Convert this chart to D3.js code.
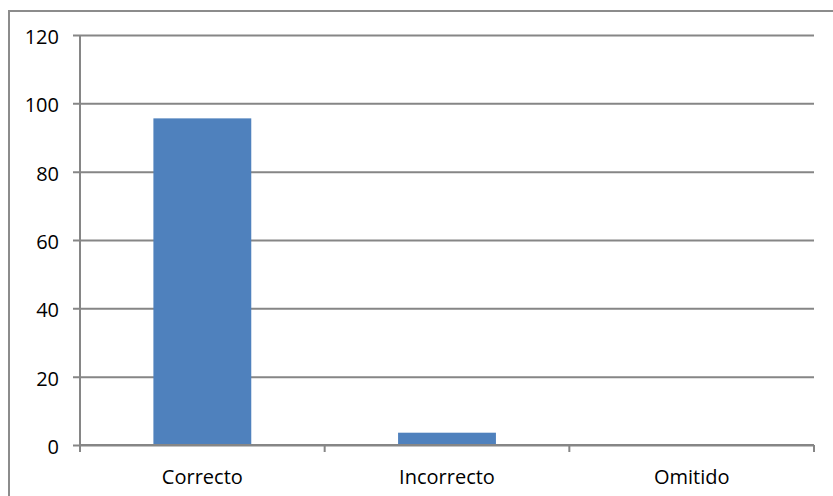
<!DOCTYPE html>
<html>
<head>
<meta charset="utf-8">
<script src="https://cdn.jsdelivr.net/npm/d3@7"></script>
<style>
  html, body { margin: 0; padding: 0; background: #fff; }
  svg { display: block; }
  text { font-family: "Open Sans", "Noto Sans", sans-serif; fill: #000; }
</style>
</head>
<body>
<div id="chart"></div>
<script>
// Answer categories and their counts
const categories = ["Correcto", "Incorrecto", "Omitido"];
const values = [95.6, 3.6, 0];
const yTicks = [0, 20, 40, 60, 80, 100, 120];

const W = 833, H = 496;
const plot = { left: 80, right: 814, top: 35, bottom: 445 };
const axisColor = "#868686";

const svg = d3.select("#chart").append("svg")
  .attr("width", W).attr("height", H);

// Outer chart frame
svg.append("rect")
  .attr("x", 9).attr("y", 11)
  .attr("width", W + 10).attr("height", H + 10)
  .attr("fill", "none")
  .attr("stroke", "#8c8c8c")
  .attr("stroke-width", 2);

const x = d3.scaleBand()
  .domain(categories)
  .range([plot.left, plot.right])
  .padding(0);

const y = d3.scaleLinear()
  .domain([0, 120])
  .range([plot.bottom, plot.top]);

// Horizontal gridlines with outward tick marks
const yAxis = svg.append("g")
  .attr("transform", `translate(${plot.left},0)`)
  .call(d3.axisLeft(y)
    .tickValues(yTicks)
    .tickSizeInner(-(plot.right - plot.left))
    .tickSizeOuter(0)
    .tickPadding(21)
    .tickFormat(d3.format("d")));
yAxis.select(".domain").remove();
yAxis.selectAll(".tick line")
  .attr("x1", -7)
  .attr("stroke", axisColor)
  .attr("stroke-width", 2);
yAxis.selectAll(".tick text")
  .attr("font-size", 20)
  .attr("dy", "0.42em")
  .attr("fill", "#000");

// Vertical axis line
svg.append("line")
  .attr("x1", plot.left).attr("x2", plot.left)
  .attr("y1", plot.top).attr("y2", plot.bottom)
  .attr("stroke", axisColor).attr("stroke-width", 2);

// Bars
const barW = x.bandwidth() * 0.4;
svg.append("g").selectAll("rect")
  .data(categories.map((c, i) => ({ c, v: values[i] })))
  .join("rect")
  .attr("x", d => x(d.c) + (x.bandwidth() - barW) / 2)
  .attr("y", d => y(d.v))
  .attr("width", barW)
  .attr("height", d => y(0) - y(d.v))
  .attr("fill", "#4f81bd");

// Category axis with boundary ticks
const xg = svg.append("g");
xg.append("line")
  .attr("x1", plot.left).attr("x2", plot.right)
  .attr("y1", plot.bottom).attr("y2", plot.bottom)
  .attr("stroke", axisColor).attr("stroke-width", 2);
const bounds = categories.map(c => x(c)).concat([x(categories[categories.length - 1]) + x.bandwidth()]);
xg.selectAll(".bt")
  .data(bounds)
  .join("line")
  .attr("class", "bt")
  .attr("x1", d => d).attr("x2", d => d)
  .attr("y1", plot.bottom).attr("y2", plot.bottom + 7)
  .attr("stroke", axisColor).attr("stroke-width", 2);
xg.selectAll(".lbl")
  .data(categories)
  .join("text")
  .attr("class", "lbl")
  .attr("x", d => x(d) + x.bandwidth() / 2)
  .attr("y", 484)
  .attr("text-anchor", "middle")
  .attr("font-size", 20)
  .text(d => d);
</script>
</body>
</html>
